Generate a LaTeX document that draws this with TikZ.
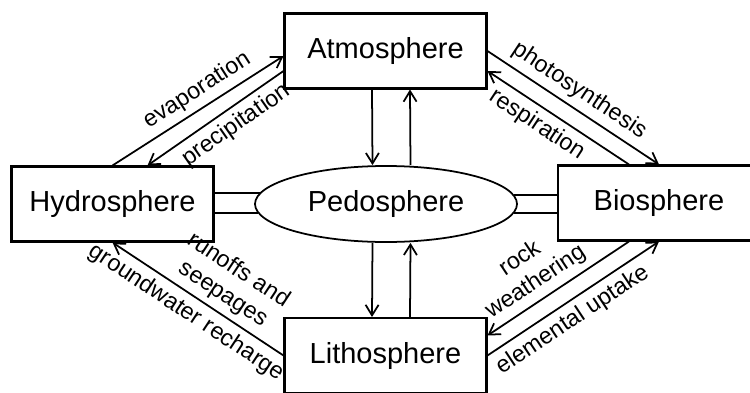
\documentclass[tikz,border=0pt]{standalone}
\usepackage{fontspec}
\setmainfont{Liberation Sans}
\usetikzlibrary{arrows.meta,calc,positioning,shapes.geometric}
\begin{document}
\begin{tikzpicture}[line width=1pt,>={Straight Barb[length=2.1mm,width=2.6mm]},
  sphere/.style={draw,line width=1.15pt,minimum width=4.04cm,minimum height=1.5cm,font=\fontsize{16.5}{20}\selectfont},
  lbl/.style={font=\fontsize{13.3}{16}\selectfont,sloped,align=center}]
\useasboundingbox (0,0) rectangle (15,7.84);
\node[sphere] (atmo) at (7.71,6.82) {Atmosphere};
\node[sphere] (hydro) at (2.25,3.76) {Hydrosphere};
\node[sphere] (bio) at (13.18,3.78) {Biosphere};
\node[sphere] (litho) at (7.71,0.73) {Lithosphere};
\node[draw,ellipse,inner sep=0pt,minimum width=5.24cm,minimum height=1.52cm,font=\fontsize{16.5}{20}\selectfont] (pedo) at (7.72,3.76) {Pedosphere};
\draw[->] (hydro.north) -- node[lbl,above,pos=0.55]{evaporation} ([yshift=-0.1cm]atmo.west);
\draw[->] ([yshift=-0.4cm]atmo.west) -- node[lbl,below,pos=0.42]{precipitation} ([xshift=0.7cm]hydro.north);
\draw[->] (atmo.east) -- node[lbl,above,pos=0.48]{photosynthesis} (bio.north);
\draw[->] ([xshift=-0.6cm]bio.north) -- node[lbl,below,pos=0.58]{respiration} ([yshift=-0.4cm]atmo.east);
\draw[->] (litho.west) -- node[lbl,above,pos=0.41]{runoffs and\\seepages} node[lbl,below,pos=0.51]{groundwater recharge} (hydro.south);
\draw[->] ([xshift=-0.6cm]bio.south) -- node[lbl,above,pos=0.59]{rock\\weathering} ([yshift=0.4cm]litho.east);
\draw[->] (litho.east) -- node[lbl,below,pos=0.44]{elemental uptake} (bio.south);
\draw[->] ([xshift=-0.27cm]atmo.south) -- ([xshift=-0.27cm]pedo.north);
\draw[->] ([xshift=0.49cm]pedo.north) -- ([xshift=0.49cm]atmo.south);
\draw[->] ([xshift=-0.27cm]pedo.south) -- ([xshift=-0.27cm]litho.north);
\draw[->] ([xshift=0.49cm]litho.north) -- ([xshift=0.49cm]pedo.south);
\draw (pedo.175.7) -- (pedo.175.7 -| hydro.east);
\draw (pedo.184.3) -- (pedo.184.3 -| hydro.east);
\draw (pedo.4.3) -- (pedo.4.3 -| bio.west);
\draw (pedo.-4.3) -- (pedo.-4.3 -| bio.west);
\end{tikzpicture}
\end{document}
